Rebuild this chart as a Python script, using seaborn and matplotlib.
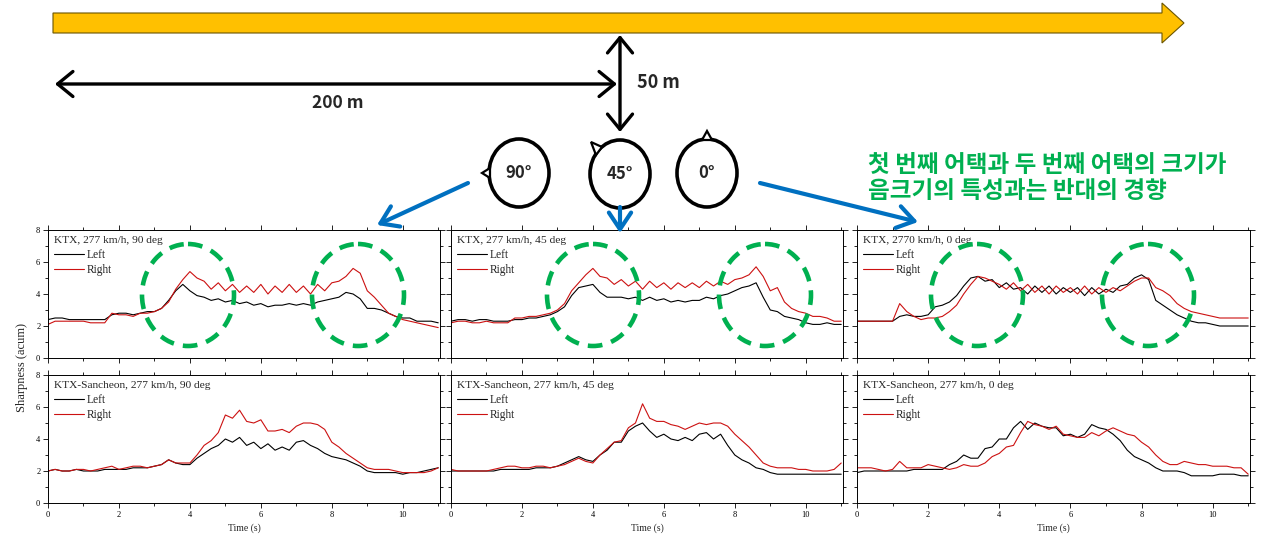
import matplotlib
matplotlib.use("Agg")
import numpy as np
import pandas as pd
import matplotlib.pyplot as plt
import seaborn as sns
from matplotlib.patches import Ellipse, Polygon
from matplotlib.lines import Line2D
from matplotlib.ticker import MultipleLocator

# ---------------- data ----------------
TIME_S = [0.0, 0.2, 0.4, 0.6, 0.8, 1.0, 1.2, 1.4, 1.6, 1.8,
          2.0, 2.2, 2.4, 2.6, 2.8, 3.0, 3.2, 3.4, 3.6, 3.8,
          4.0, 4.2, 4.4, 4.6, 4.8, 5.0, 5.2, 5.4, 5.6, 5.8,
          6.0, 6.2, 6.4, 6.6, 6.8, 7.0, 7.2, 7.4, 7.6, 7.8,
          8.0, 8.2, 8.4, 8.6, 8.8, 9.0, 9.2, 9.4, 9.6, 9.8,
          10.0, 10.2, 10.4, 10.6, 10.8, 11.0]

CHANNELS = ["Left", "Right"]

PANEL_TITLES = ["KTX, 277 km/h, 90 deg", "KTX, 277 km/h, 45 deg", "KTX, 2770 km/h, 0 deg",
                "KTX-Sancheon, 277 km/h, 90 deg", "KTX-Sancheon, 277 km/h, 45 deg",
                "KTX-Sancheon, 277 km/h, 0 deg"]

KTX90_LEFT = [2.4, 2.5, 2.5, 2.4, 2.4, 2.4, 2.4, 2.4, 2.4, 2.7,
              2.8, 2.8, 2.7, 2.8, 2.9, 2.9, 3.1, 3.6, 4.2, 4.6,
              4.2, 3.9, 3.8, 3.6, 3.7, 3.5, 3.6, 3.4, 3.5, 3.3,
              3.4, 3.2, 3.3, 3.3, 3.4, 3.3, 3.4, 3.3, 3.5, 3.6,
              3.7, 3.8, 4.1, 4.0, 3.7, 3.1, 3.1, 3.0, 2.8, 2.6,
              2.5, 2.5, 2.3, 2.3, 2.3, 2.2]
KTX90_RIGHT = [2.1, 2.3, 2.3, 2.3, 2.3, 2.3, 2.2, 2.2, 2.2, 2.8,
               2.7, 2.7, 2.6, 2.8, 2.8, 2.9, 3.1, 3.5, 4.3, 4.9,
               5.4, 5.0, 4.8, 4.3, 4.7, 4.2, 4.6, 4.1, 4.5, 4.1,
               4.6, 4.0, 4.5, 4.1, 4.6, 4.1, 4.5, 4.0, 4.6, 4.2,
               4.7, 4.8, 5.1, 5.6, 5.3, 4.2, 3.8, 3.3, 2.8, 2.6,
               2.4, 2.3, 2.2, 2.1, 2.0, 1.9]

KTX45_LEFT = [2.3, 2.4, 2.4, 2.3, 2.4, 2.4, 2.3, 2.3, 2.3, 2.4,
              2.4, 2.5, 2.5, 2.6, 2.7, 2.9, 3.2, 3.9, 4.4, 4.5,
              4.6, 4.1, 3.8, 3.8, 3.8, 3.7, 3.8, 3.6, 3.8, 3.6,
              3.7, 3.5, 3.6, 3.5, 3.6, 3.6, 3.8, 3.7, 3.9, 4.0,
              4.2, 4.4, 4.5, 4.7, 3.8, 3.0, 2.9, 2.6, 2.5, 2.4,
              2.2, 2.1, 2.1, 2.2, 2.1, 2.1]
KTX45_RIGHT = [2.2, 2.3, 2.3, 2.2, 2.2, 2.3, 2.2, 2.2, 2.2, 2.5,
               2.5, 2.6, 2.6, 2.7, 2.8, 3.0, 3.4, 4.2, 4.7, 5.2,
               5.6, 5.1, 5.0, 4.6, 4.9, 4.5, 4.8, 4.3, 4.8, 4.4,
               4.7, 4.3, 4.7, 4.4, 4.7, 4.4, 4.8, 4.5, 4.8, 4.6,
               4.9, 5.0, 5.2, 5.7, 5.1, 4.2, 4.4, 3.5, 3.1, 2.9,
               2.8, 2.6, 2.6, 2.5, 2.3, 2.3]

KTX0_LEFT = [2.3, 2.3, 2.3, 2.3, 2.3, 2.3, 2.6, 2.7, 2.6, 2.6,
             2.7, 3.2, 3.3, 3.5, 3.9, 4.5, 5.0, 5.1, 4.8, 4.9,
             4.4, 4.7, 4.3, 4.4, 4.0, 4.5, 4.1, 4.5, 4.0, 4.4,
             4.1, 4.4, 3.9, 4.4, 4.0, 4.3, 4.1, 4.5, 4.6, 5.0,
             5.2, 4.9, 3.6, 3.3, 3.0, 2.7, 2.5, 2.3, 2.2, 2.2,
             2.1, 2.0, 2.0, 2.0, 2.0, 2.0]
KTX0_RIGHT = [2.3, 2.3, 2.3, 2.3, 2.3, 2.3, 3.4, 2.9, 2.6, 2.4,
              2.5, 2.5, 2.6, 2.9, 3.3, 4.0, 4.6, 5.1, 5.0, 4.8,
              4.6, 4.3, 4.7, 4.2, 4.6, 4.1, 4.5, 4.0, 4.5, 4.1,
              4.4, 4.0, 4.5, 4.0, 4.4, 4.1, 4.4, 4.2, 4.5, 4.8,
              5.0, 5.0, 4.4, 4.2, 3.9, 3.4, 3.1, 2.9, 2.8, 2.7,
              2.6, 2.5, 2.5, 2.5, 2.5, 2.5]

SAN90_LEFT = [2.0, 2.1, 2.0, 2.0, 2.1, 2.0, 2.0, 2.0, 2.1, 2.1,
              2.1, 2.1, 2.2, 2.2, 2.2, 2.3, 2.4, 2.7, 2.5, 2.4,
              2.4, 2.8, 3.1, 3.4, 3.6, 4.0, 3.8, 4.1, 3.6, 3.8,
              3.4, 3.7, 3.3, 3.5, 3.3, 3.8, 3.9, 3.6, 3.4, 3.1,
              2.9, 2.8, 2.7, 2.5, 2.3, 2.0, 1.9, 1.9, 1.9, 1.9,
              1.8, 1.9, 1.9, 2.0, 2.1, 2.2]
SAN90_RIGHT = [2.0, 2.1, 2.0, 2.0, 2.1, 2.1, 2.0, 2.1, 2.2, 2.3,
               2.1, 2.2, 2.3, 2.3, 2.2, 2.3, 2.4, 2.7, 2.5, 2.5,
               2.5, 3.0, 3.6, 3.9, 4.4, 5.5, 5.3, 5.8, 5.1, 5.0,
               5.2, 4.5, 4.5, 4.6, 4.4, 4.8, 5.0, 5.0, 4.9, 4.6,
               3.8, 3.5, 3.1, 2.8, 2.5, 2.2, 2.1, 2.1, 2.1, 2.0,
               1.9, 1.9, 1.9, 1.9, 2.0, 2.2]

SAN45_LEFT = [2.0, 2.0, 2.0, 2.0, 2.0, 2.0, 2.0, 2.1, 2.1, 2.1,
              2.1, 2.1, 2.2, 2.2, 2.2, 2.3, 2.5, 2.7, 2.9, 2.7,
              2.6, 3.0, 3.3, 3.8, 3.8, 4.5, 4.8, 5.0, 4.5, 4.1,
              4.3, 4.0, 3.9, 4.1, 3.9, 4.3, 4.4, 4.0, 4.3, 3.6,
              3.0, 2.7, 2.5, 2.2, 2.1, 1.9, 1.8, 1.8, 1.8, 1.8,
              1.8, 1.8, 1.8, 1.8, 1.8, 1.8]
SAN45_RIGHT = [2.1, 2.0, 2.0, 2.0, 2.0, 2.0, 2.1, 2.2, 2.3, 2.3,
               2.2, 2.2, 2.3, 2.3, 2.2, 2.3, 2.4, 2.6, 2.8, 2.6,
               2.5, 3.0, 3.4, 3.8, 3.9, 4.7, 5.0, 6.2, 5.3, 5.1,
               5.1, 4.9, 4.8, 4.6, 4.8, 5.0, 4.9, 5.0, 5.0, 4.8,
               4.3, 3.9, 3.5, 3.0, 2.5, 2.3, 2.2, 2.2, 2.2, 2.1,
               2.1, 2.0, 2.0, 2.0, 2.1, 2.5]

SAN0_LEFT = [1.9, 2.0, 2.0, 2.0, 2.0, 2.0, 2.0, 2.0, 2.1, 2.1,
             2.1, 2.1, 2.1, 2.4, 2.6, 3.0, 2.8, 2.8, 3.4, 3.5,
             4.0, 4.0, 4.7, 5.1, 4.6, 5.0, 4.8, 4.7, 4.7, 4.2,
             4.3, 4.1, 4.3, 4.9, 4.7, 4.6, 4.3, 3.9, 3.3, 2.9,
             2.7, 2.5, 2.2, 2.0, 2.0, 2.0, 1.9, 1.7, 1.7, 1.7,
             1.7, 1.8, 1.8, 1.8, 1.7, 1.7]
SAN0_RIGHT = [2.2, 2.2, 2.2, 2.1, 2.0, 2.1, 2.6, 2.2, 2.2, 2.2,
              2.4, 2.3, 2.2, 2.1, 2.2, 2.4, 2.3, 2.3, 2.5, 2.9,
              3.1, 3.5, 3.6, 4.4, 5.1, 4.9, 4.8, 4.6, 4.8, 4.3,
              4.2, 4.1, 4.1, 4.4, 4.2, 4.5, 4.7, 4.5, 4.3, 4.2,
              3.8, 3.5, 3.0, 2.6, 2.4, 2.4, 2.6, 2.5, 2.4, 2.4,
              2.3, 2.3, 2.3, 2.2, 2.2, 1.8]

X_TICKS = [0, 2, 4, 6, 8, 10]
Y_TICKS = [0, 2, 4, 6, 8]

DIAGRAM_LABELS = ["200 m", "50 m"]
ANGLE_LABELS = ["90°", "45°", "0°"]
NOTE_LINES = ["첫 번째 어택과 두 번째 어택의 크기가", "음크기의 특성과는 반대의 경향"]

# ---------------- style ----------------
sns.set_theme(style="ticks")
plt.rcParams['font.family'] = ['Liberation Serif', 'DejaVu Serif']
plt.rcParams['axes.edgecolor'] = 'black'
plt.rcParams['xtick.color'] = 'black'
plt.rcParams['ytick.color'] = 'black'
plt.rcParams['axes.linewidth'] = 0.7

PALETTE = {"Left": "black", "Right": "#CC1111"}
SANS = ['Noto Sans CJK KR', 'DejaVu Sans']
GREEN = '#00B050'
BLUE = '#0070C0'

W, H = 1276, 538
fig = plt.figure(figsize=(W / 100, H / 100), dpi=100)
fig.patch.set_facecolor('white')


def rect(l, t, r, b):
    return [l / W, 1 - b / H, (r - l) / W, (b - t) / H]


COLS = [(48, 440), (451, 843), (857, 1250)]
ROWS = [(230, 358), (375, 503)]

series = [(KTX90_LEFT, KTX90_RIGHT), (KTX45_LEFT, KTX45_RIGHT), (KTX0_LEFT, KTX0_RIGHT),
          (SAN90_LEFT, SAN90_RIGHT), (SAN45_LEFT, SAN45_RIGHT), (SAN0_LEFT, SAN0_RIGHT)]

for k, (title, (left, right)) in enumerate(zip(PANEL_TITLES, series)):
    r, c = divmod(k, 3)
    ax = fig.add_axes(rect(COLS[c][0], ROWS[r][0], COLS[c][1], ROWS[r][1]))
    df = pd.DataFrame({
        "Time": TIME_S + TIME_S,
        "Sharpness": left + right,
        "Channel": [CHANNELS[0]] * len(left) + [CHANNELS[1]] * len(right),
    })
    sns.lineplot(data=df, x="Time", y="Sharpness", hue="Channel", palette=PALETTE,
                 ax=ax, linewidth=0.8, errorbar=None, legend=False)
    ax.set_xlim(0, 11.05)
    ax.set_ylim(0, 8)
    ax.set_xticks(X_TICKS)
    ax.set_yticks(Y_TICKS)
    ax.xaxis.set_minor_locator(MultipleLocator(1))
    ax.yaxis.set_minor_locator(MultipleLocator(1))
    ax.tick_params(which='both', direction='out', top=True, right=True,
                   labelsize=6, pad=2, width=0.6)
    ax.tick_params(which='major', length=3.5)
    ax.tick_params(which='minor', length=2)
    if r == 0:
        ax.tick_params(labelbottom=False)
    if c > 0:
        ax.tick_params(labelleft=False)
    ax.set_xlabel("")
    ax.set_ylabel("")
    for s in ax.spines.values():
        s.set_visible(True)
        s.set_color('black')
        s.set_linewidth(0.7)
    handles = [Line2D([0], [0], color=PALETTE[ch], lw=0.8) for ch in CHANNELS]
    leg = ax.legend(handles, CHANNELS, title=title, loc='upper left',
                    bbox_to_anchor=(0, 1), borderaxespad=0.2, frameon=False,
                    fontsize=8.3, title_fontsize=8.2, handlelength=2.6,
                    handletextpad=0.25, labelspacing=0.28, borderpad=0.35)
    leg._legend_box.align = 'left'
    if r == 1:
        fig.text((COLS[c][0] + COLS[c][1]) / 2 / W, 1 - 528 / H, "Time (s)",
                 ha='center', va='center', fontsize=7)

fig.text(22 / W, 1 - 368 / H, "Sharpness (acum)", rotation=90,
         ha='center', va='center', fontsize=9)

# ---------------- overlay diagram ----------------
ov = fig.add_axes([0, 0, 1, 1])
ov.set_xlim(0, W)
ov.set_ylim(H, 0)
ov.axis('off')
ov.patch.set_alpha(0)

# track arrow
ov.add_patch(Polygon([(53, 13), (1162, 13), (1162, 3), (1184, 23), (1162, 43),
                      (1162, 33), (53, 33)], closed=True, facecolor='#FFC000',
                     edgecolor='#6b5500', lw=0.8))

# dimension arrows
ap = dict(arrowstyle='<->,head_length=0.55,head_width=0.45', lw=2.4, color='black',
          mutation_scale=20, shrinkA=0, shrinkB=0)
ov.annotate('', xy=(55, 84), xytext=(617, 84), arrowprops=ap)
ov.annotate('', xy=(620, 35), xytext=(620, 132), arrowprops=ap)
ov.text(338, 103, DIAGRAM_LABELS[0], family=SANS, fontweight='bold', fontsize=12.5,
        ha='center', va='center')
ov.text(637, 82, DIAGRAM_LABELS[1], family=SANS, fontweight='bold', fontsize=13,
        ha='left', va='center')

# microphones
mics = [(519, 173), (620, 174), (707, 173)]
for (cx, cy), lab in zip(mics, ANGLE_LABELS):
    ov.add_patch(Ellipse((cx, cy), 60, 68, facecolor='white', edgecolor='black', lw=2.6))
    ov.text(cx, cy, lab, family=SANS, fontweight='bold', fontsize=12,
            ha='center', va='center')
tri = dict(closed=True, facecolor='white', edgecolor='black', lw=1.6)
ov.add_patch(Polygon([(482, 173), (490, 168), (490, 178)], **tri))
ov.add_patch(Polygon([(591, 142), (602, 147), (596, 155)], **tri))
ov.add_patch(Polygon([(707, 131), (702, 140), (712, 140)], **tri))

# blue arrows
bp = dict(arrowstyle='->,head_length=0.6,head_width=0.4', lw=3, color=BLUE,
          mutation_scale=20, shrinkA=0, shrinkB=0)
ov.annotate('', xy=(377, 225), xytext=(468, 183), arrowprops=bp)
ov.annotate('', xy=(620, 233), xytext=(620, 207), arrowprops=bp)
ov.annotate('', xy=(918, 222), xytext=(760, 183), arrowprops=bp)

# green note
ov.text(868, 165, NOTE_LINES[0], family=SANS, fontweight='bold', fontsize=17,
        color=GREEN, ha='left', va='center')
ov.text(868, 191, NOTE_LINES[1], family=SANS, fontweight='bold', fontsize=17,
        color=GREEN, ha='left', va='center')

# green dashed highlight circles
for cx in [188, 358, 593, 765, 977, 1148]:
    ov.add_patch(Ellipse((cx, 295), 92, 102, fill=False, edgecolor=GREEN, lw=3.3,
                         linestyle=(0, (3.2, 2.0))))

fig.savefig("out.png", dpi=100, facecolor='white')
